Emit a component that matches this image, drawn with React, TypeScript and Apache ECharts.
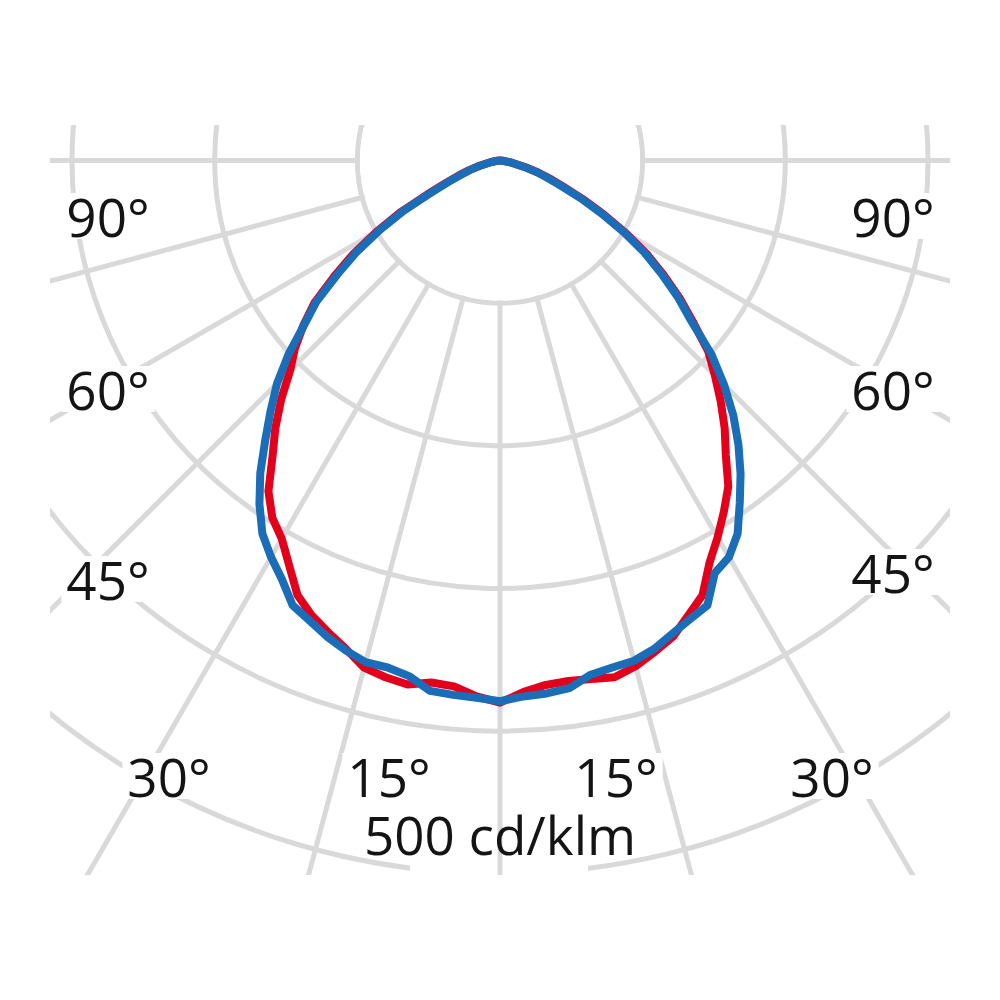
import React, { useEffect, useRef } from "react";
import * as echarts from "echarts";

// Polar angles (degrees from nadir) for each half of the light distribution curve
const halfAngles = [0, 2.5, 5, 7.5, 10, 12.5, 15, 17.5, 20, 22.5, 25, 27.5, 30, 32.5, 35, 37.5, 40, 42.5, 45, 47.5, 50, 52.5, 55, 57.5, 60, 62.5, 65, 67.5, 70, 72.5, 75, 80, 85, 90];

// Luminous intensity in cd/klm
const redLeft = [380, 376, 370, 369, 373, 371, 368, 359, 352, 345, 336, 320, 306, 297, 283, 262, 245, 227, 208, 195, 180, 164, 142, 122, 100, 79, 56, 41, 31, 23, 16, 7, 2, 0];
const redRight = [380, 373, 369, 368, 369, 371, 367, 361, 355, 345, 336, 318, 305, 292, 279, 260, 245, 229, 213, 198, 177, 159, 140, 122, 102, 82, 64, 48, 37, 28, 19, 8, 2, 0];
const blueLeft = [379, 377, 376, 375, 367, 364, 364, 360, 355, 349, 344, 331, 321, 310, 294, 276, 256, 238, 221, 201, 179, 162, 139, 119, 97, 76, 53, 39, 29, 22, 15, 6, 2, 0];
const blueRight = [379, 376, 375, 373, 366, 364, 363, 359, 353, 348, 344, 326, 321, 310, 293, 277, 260, 242, 222, 201, 175, 157, 138, 120, 100, 80, 62, 46, 35, 27, 18, 7, 2, 0];

// Tick labels
const angleLabels = ["90°", "60°", "45°", "30°", "15°"];
const scaleLabel = "500 cd/klm";

// Layout (label centres in px)
const leftLabelPos = [
  [108, 216],
  [108, 389],
  [108, 579],
  [169, 776],
  [389, 776],
];
const rightLabelPos = [
  [893, 216],
  [893, 389],
  [893, 572],
  [832, 776],
  [616, 776],
];

const GRID = "#d9d9d9";
const FONT = '53px "Open Sans"';
const CX = 500;
const CY = 160.5;

function toPolar(left: number[], right: number[]) {
  const pts: number[][] = [];
  for (let i = halfAngles.length - 1; i >= 0; i--) pts.push([left[i], -halfAngles[i]]);
  for (let i = 1; i < halfAngles.length; i++) pts.push([right[i], halfAngles[i]]);
  return pts;
}

function labelText(text: string, x: number, y: number) {
  return {
    type: "text",
    z: 30,
    style: {
      text,
      x,
      y,
      fill: "#141414",
      font: FONT,
      lineHeight: 46,
      textAlign: "center",
      textVerticalAlign: "middle",
      backgroundColor: "#fff",
      padding: [0, 5],
    },
  };
}

export default function App() {
  const ref = useRef<HTMLDivElement>(null);
  useEffect(() => {
    if (!ref.current) return;
    const chart = echarts.init(ref.current, null, { renderer: "svg" });
    const clip = [
      [0, 0, 1000, 125],
      [0, 875, 1000, 125],
      [0, 0, 50, 1000],
      [950, 0, 50, 1000],
    ].map(([x, y, w, h]) => ({
      type: "rect",
      z: 50,
      shape: { x, y, width: w, height: h },
      style: { fill: "#fff" },
    }));
    const graphic: any[] = [
      ...clip,
      // knock-out of the 500 ring behind its label
      {
        type: "rect",
        z: 2,
        shape: { x: 410, y: 805, width: 178, height: 75 },
        style: { fill: "#fff" },
      },
      // radial lines start at the first ring
      {
        type: "circle",
        z: 4,
        shape: { cx: CX, cy: CY, r: 140 },
        style: { fill: "#fff" },
      },
      ...angleLabels.map((t, i) => labelText(t, leftLabelPos[i][0], leftLabelPos[i][1])),
      ...angleLabels.map((t, i) => labelText(t, rightLabelPos[i][0], rightLabelPos[i][1])),
      {
        type: "text",
        z: 30,
        style: {
          text: scaleLabel,
          x: 500,
          y: 834,
          fill: "#141414",
          font: FONT,
          lineHeight: 46,
          textAlign: "center",
          textVerticalAlign: "middle",
        },
      },
    ];
    chart.setOption({
      animation: false,
      backgroundColor: "#fff",
      polar: { center: [CX, CY], radius: [0, 856] },
      radiusAxis: {
        type: "value",
        min: 0,
        max: 600,
        interval: 100,
        z: 1,
        axisLine: { show: false },
        axisTick: { show: false },
        axisLabel: { show: false },
        splitLine: { show: true, lineStyle: { color: GRID, width: 5 } },
      },
      angleAxis: {
        type: "value",
        min: -180,
        max: 180,
        interval: 15,
        startAngle: 90,
        clockwise: false,
        z: 3,
        axisLine: { show: false },
        axisTick: { show: false },
        axisLabel: { show: false },
        splitLine: { show: true, lineStyle: { color: GRID, width: 5 } },
      },
      series: [
        {
          type: "line",
          coordinateSystem: "polar",
          name: "C0-C180",
          data: toPolar(redLeft, redRight),
          showSymbol: false,
          clip: false,
          z: 5,
          lineStyle: { color: "#e3001b", width: 8, join: "round", cap: "round" },
        },
        {
          type: "line",
          coordinateSystem: "polar",
          name: "C90-C270",
          data: toPolar(blueLeft, blueRight),
          showSymbol: false,
          clip: false,
          z: 6,
          lineStyle: { color: "#1b6db7", width: 8, join: "round", cap: "round" },
        },
      ],
      graphic,
    });
    return () => chart.dispose();
  }, []);
  return (
    <div
      ref={ref}
      style={{ position: "absolute", left: 0, top: 0, width: 1000, height: 1000 }}
    />
  );
}
